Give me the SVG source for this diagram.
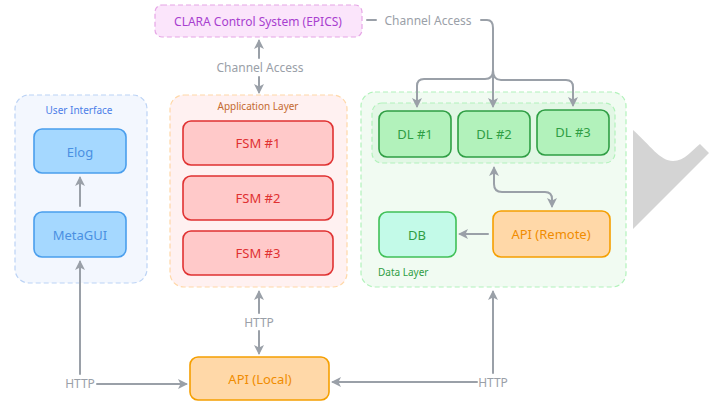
<svg xmlns="http://www.w3.org/2000/svg" width="719" height="401" viewBox="0 0 719 401">
<defs>
<marker id="ah" viewBox="0 0 10 10" refX="8" refY="5" markerWidth="10" markerHeight="10" markerUnits="userSpaceOnUse" orient="auto-start-reverse">
<path d="M0,0 L10,5 L0,10 L2.5,5 Z" fill="#9aa0a8"/>
</marker>
<style>
text{font-family:"Noto Sans","Open Sans","Liberation Sans",sans-serif;text-anchor:middle;dominant-baseline:central}
.lbl{font-size:13px}
.sec{font-size:10px}
.edge{fill:none;stroke:#9aa0a8;stroke-width:2;stroke-linecap:round;stroke-linejoin:round}
.etxt{font-size:12px;fill:#9aa0a8}
.blue rect{fill:#a5d8ff;stroke:#4a9eed;stroke-width:1.6}
.blue text{fill:#4a90e2}
.red rect{fill:#ffc9c9;stroke:#e03131;stroke-width:1.6}
.red text{fill:#e03131}
.green rect{fill:#b2f2bb;stroke:#2f9e44;stroke-width:1.6}
.green text{fill:#2f9e44}
.orange rect{fill:#ffd8a8;stroke:#f59f00;stroke-width:1.6}
.orange text{fill:#f08c00}
</style>
</defs>
<rect width="719" height="401" fill="#ffffff"/>
<path d="M633,130 C650,145 660,161 673,161 C685,161 692,150 700,144 L709,153 L633,229 Z" fill="#d4d4d4"/>
<g id="clara">
<rect x="155" y="5" width="207" height="32" rx="7" fill="#fbe5fb" stroke="#e6a6e6" stroke-width="1.2" stroke-dasharray="5,3"/>
<text x="258" y="21" style="font-size:12px" fill="#a83fcf">CLARA Control System (EPICS)</text>
</g>
<g id="user-interface">
<rect x="15" y="95" width="132" height="188" rx="14" fill="#f3f7fe" stroke="#bcd3f5" stroke-width="1.2" stroke-dasharray="5,3"/>
<text class="sec" x="79" y="110" fill="#4c7ee8">User Interface</text>
</g>
<g id="application-layer">
<rect x="170" y="95" width="177" height="192" rx="14" fill="#fff1f1" stroke="#ffd8a8" stroke-width="1.2" stroke-dasharray="5,3"/>
<text class="sec" x="258" y="106" fill="#c46a2f">Application Layer</text>
</g>
<g id="data-layer">
<rect x="361" y="92" width="265" height="195" rx="14" fill="#f1fbf2" stroke="#b2f2bb" stroke-width="1.2" stroke-dasharray="5,3"/>
<text class="sec" x="378" y="272" fill="#2f9e44" style="text-anchor:start">Data Layer</text>
</g>
<g id="dl-group">
<rect x="372" y="103" width="243" height="60" rx="10" fill="#e2f7e5" stroke="#b2f2bb" stroke-width="1.2" stroke-dasharray="5,3"/>
</g>
<g id="elog" class="blue"><rect x="34" y="129" width="92" height="44" rx="8"/><text class="lbl" x="80" y="152">Elog</text></g>
<g id="metagui" class="blue"><rect x="34" y="212" width="92" height="45" rx="8"/><text class="lbl" x="80" y="235">MetaGUI</text></g>
<g id="fsm1" class="red"><rect x="183" y="121" width="150" height="44" rx="8"/><text class="lbl" x="258" y="143">FSM #1</text></g>
<g id="fsm2" class="red"><rect x="183" y="176" width="150" height="44" rx="8"/><text class="lbl" x="258" y="198">FSM #2</text></g>
<g id="fsm3" class="red"><rect x="183" y="231" width="150" height="44" rx="8"/><text class="lbl" x="258" y="253">FSM #3</text></g>
<g id="dl1" class="green"><rect x="379" y="111" width="72" height="46" rx="8"/><text class="lbl" x="415" y="134">DL #1</text></g>
<g id="dl2" class="green"><rect x="458" y="111" width="72" height="46" rx="8"/><text class="lbl" x="494" y="134">DL #2</text></g>
<g id="dl3" class="green"><rect x="537" y="110" width="72" height="45" rx="8"/><text class="lbl" x="573" y="132">DL #3</text></g>
<g id="db" class="green"><rect x="379" y="212" width="77" height="45" rx="8" style="fill:#c3fae8;stroke:#40c057"/><text class="lbl" x="417" y="235">DB</text></g>
<g id="api-remote" class="orange"><rect x="493" y="211" width="117" height="46" rx="8"/><text class="lbl" x="551" y="234">API (Remote)</text></g>
<g id="api-local" class="orange"><rect x="190" y="357" width="139" height="43" rx="8"/><text class="lbl" x="260" y="379">API (Local)</text></g>
<g id="connectors">
<path class="edge" d="M259,58 L259,41" marker-end="url(#ah)"/>
<path class="edge" d="M259,77 L259,92" marker-end="url(#ah)"/>
<text class="etxt" x="260" y="67">Channel Access</text>
<path class="edge" d="M367,20 L376,20"/>
<text class="etxt" x="428" y="20">Channel Access</text>
<path class="edge" d="M481,20 L487,20 Q493,20 493,28 L493,106" marker-end="url(#ah)"/>
<path class="edge" d="M493,70 Q493,79 485,79 L424,79 Q417,79 417,86 L417,106" marker-end="url(#ah)"/>
<path class="edge" d="M493,70 Q493,80 501,80 L566,80 Q573,80 573,87 L573,105" marker-end="url(#ah)"/>
<path class="edge" d="M80,206 L80,178" marker-end="url(#ah)"/>
<path class="edge" d="M494,168 L494,184 Q494,192 502,192 L545,192 Q552,192 552,199 L552,206" marker-start="url(#ah)" marker-end="url(#ah)"/>
<path class="edge" d="M488,234 L460,234" marker-end="url(#ah)"/>
<path class="edge" d="M259,313 L259,292" marker-end="url(#ah)"/>
<path class="edge" d="M259,331 L259,353" marker-end="url(#ah)"/>
<text class="etxt" x="259" y="322">HTTP</text>
<path class="edge" d="M80,374 L80,262" marker-end="url(#ah)"/>
<path class="edge" d="M97,384 L186,384" marker-end="url(#ah)"/>
<text class="etxt" x="80" y="383">HTTP</text>
<path class="edge" d="M493,373 L493,292" marker-end="url(#ah)"/>
<path class="edge" d="M477,382 L333,382" marker-end="url(#ah)"/>
<text class="etxt" x="493" y="382">HTTP</text>
</g>
</svg>
